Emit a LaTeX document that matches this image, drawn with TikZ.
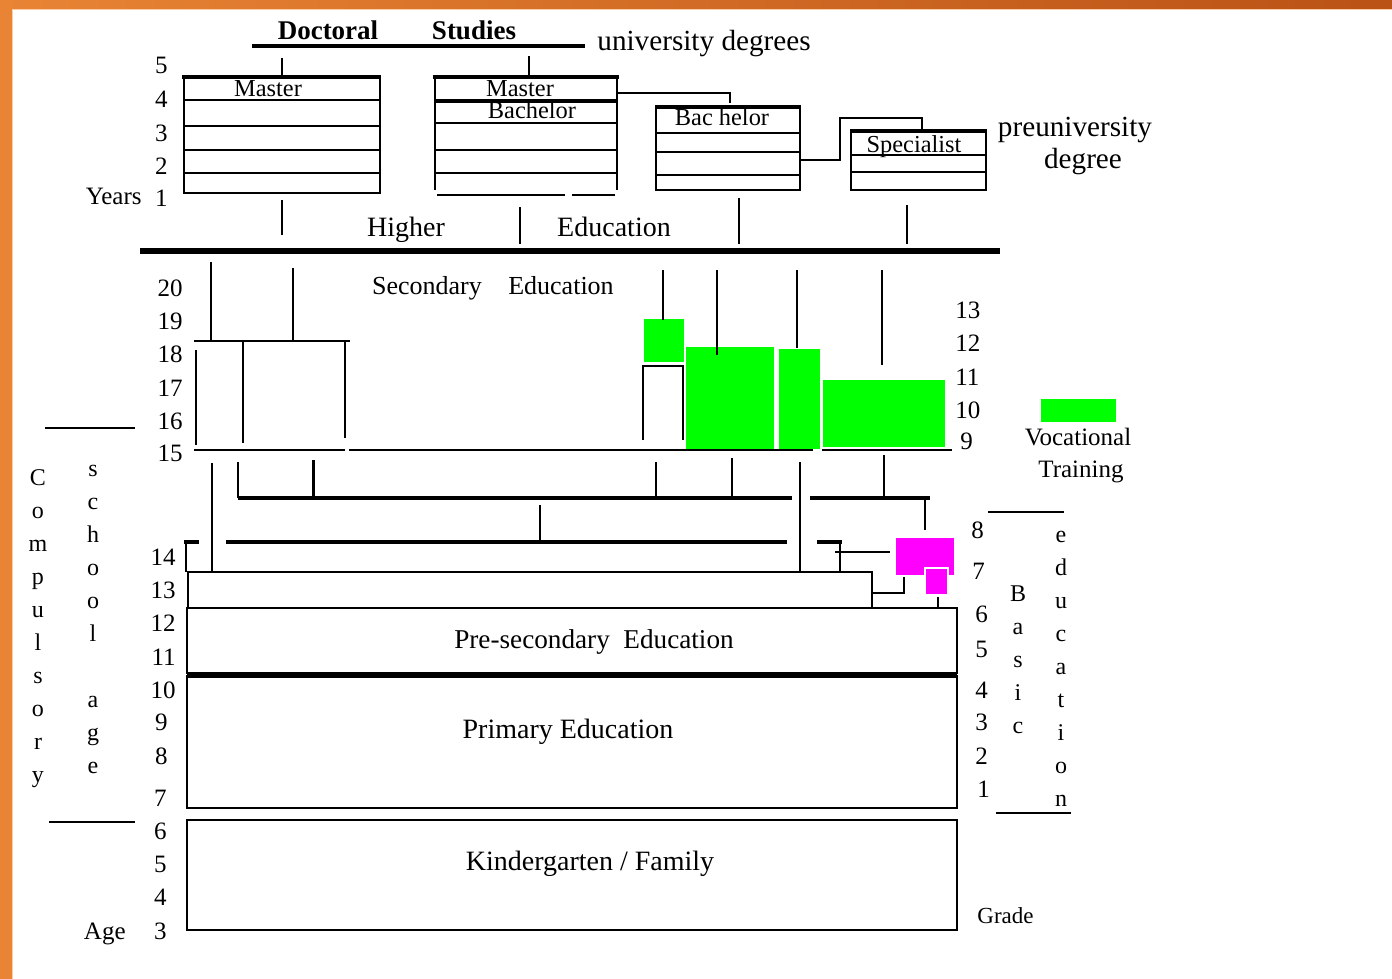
\documentclass[tikz,border=0pt]{standalone}
\usepackage{fontspec}
\setmainfont{Liberation Serif}
\usepackage{xcolor}
\usetikzlibrary{positioning}

\definecolor{vocgreen}{RGB}{0,255,0}
\definecolor{basicpink}{RGB}{255,0,255}
\definecolor{frameorange}{RGB}{232,132,52}
\definecolor{framedark}{RGB}{186,82,22}
\definecolor{framelight}{RGB}{250,205,165}

\tikzset{
  thinline/.style={black,line width=1pt},
  heavyline/.style={black,line width=2.2pt},
  num/.style={inner sep=0pt,font=\fontsize{12.5}{13}\selectfont},
  lbl/.style={inner sep=0pt,font=\fontsize{14}{15}\selectfont},
  boxlbl/.style={inner sep=0pt,font=\fontsize{12.2}{13}\selectfont},
  vletter/.style={inner sep=0pt,anchor=base,font=\fontsize{12}{13}\selectfont},
}

\begin{document}
\begin{tikzpicture}[x=0.5pt,y=-0.5pt]
\useasboundingbox (0,0) rectangle (1392,979);
\fill[white] (0,0) rectangle (1392,979);

% slide frame
\fill[frameorange] (0,0) rectangle (12,979);
\shade[left color=frameorange,right color=framedark] (0,0) rectangle (1392,9);
\draw[framelight,line width=0.8pt] (12.5,979) -- (12.5,9.5) -- (1392,9.5);

% university degrees
\node[inner sep=0pt,anchor=base,font=\bfseries\fontsize{13.5}{14}\selectfont] (doctoral) at (328,40) {Doctoral};
\node[inner sep=0pt,anchor=base,font=\bfseries\fontsize{13.5}{14}\selectfont] (studies) at (474,40) {Studies};
\node[lbl,anchor=base west,font=\fontsize{14.6}{15}\selectfont] (univ) at (597,51) {university degrees};
\draw[heavyline] (252,46) -- (585,46);
\draw[thinline] (282,58) -- (282,77);
\draw[thinline] (529,56) -- (529,77);

\node[num,anchor=base east] (years) at (142,204) {Years};
\foreach \a/\yy in {5/74,4/108,3/141,2/174,1/206}
  \node[num,anchor=base east] (year\a) at (168,\yy) {\a};

% master (left)
\draw[thinline] (184,77) rectangle (380,193);
\draw[heavyline] (182,77) -- (381,77);
\foreach \yy in {100,126,150,173}
  \draw[thinline] (184,\yy) -- (380,\yy);
\node[boxlbl,anchor=base] (master1) at (268,97) {Master};

% master / bachelor
\draw[thinline] (435,77) -- (435,190);
\draw[thinline] (617,77) -- (617,190);
\draw[heavyline] (433,77) -- (619,77);
\draw[black,line width=1.6pt] (435,101) -- (617,101);
\foreach \yy in {123,150,173}
  \draw[thinline] (435,\yy) -- (617,\yy);
\draw[thinline] (437,195) -- (565,195);
\draw[thinline] (572,195) -- (615,195);
\node[boxlbl,anchor=base] (master2) at (520,97) {Master};
\node[boxlbl,anchor=base] (bach2) at (532,119) {Bachelor};
\draw[thinline] (617,93) -- (730,93) -- (730,103);

% bachelor
\draw[thinline] (656,107) rectangle (800,190);
\draw[heavyline] (655,107) -- (801,107);
\foreach \yy in {133,152,175}
  \draw[thinline] (656,\yy) -- (800,\yy);
\node[boxlbl,anchor=base] (bach3) at (722,126) {Bac helor};
\draw[thinline] (800,160) -- (840,160) -- (840,118) -- (922,118) -- (922,131);

% specialist
\draw[thinline] (851,131) rectangle (986,190);
\draw[heavyline] (850,131) -- (987,131);
\foreach \yy in {155,172}
  \draw[thinline] (851,\yy) -- (986,\yy);
\node[boxlbl,anchor=base] (spec) at (914,153) {Specialist};
\node[lbl,anchor=base,font=\fontsize{14.6}{15}\selectfont] (preuni) at (1075,137) {preuniversity};
\node[lbl,anchor=base,font=\fontsize{14.6}{15}\selectfont] (predeg) at (1083,169) {degree};

% higher education
\draw[thinline] (282,200) -- (282,235);
\draw[thinline] (520,207) -- (520,244);
\draw[thinline] (739,198) -- (739,244);
\draw[thinline] (907,205) -- (907,244);
\node[lbl,anchor=base] (higher) at (406,236) {Higher};
\node[lbl,anchor=base] (higheredu) at (614,236) {Education};
\draw[black,line width=2.6pt] (140,251) -- (1000,251);

% secondary education
\node[num,anchor=base,font=\fontsize{13}{14}\selectfont] (second) at (427,294) {Secondary};
\node[num,anchor=base,font=\fontsize{13}{14}\selectfont] (secedu) at (561,294) {Education};
\foreach \a/\yy in {20/296,19/329,18/362,17/396,16/429,15/461}
  \node[num,anchor=base east] (age\a) at (183,\yy) {\a};
\draw[thinline] (211,262) -- (211,341);
\draw[thinline] (293,268) -- (293,341);
\draw[thinline] (194,341) -- (350,341);
\draw[thinline] (196,350) -- (196,445);
\draw[thinline] (243,341) -- (243,443);
\draw[thinline] (345,341) -- (345,438);

% vocational blocks
\fill[vocgreen] (644,319) rectangle (684,362);
\fill[vocgreen] (686,347) rectangle (774,449);
\fill[vocgreen] (779,349) rectangle (820,449);
\fill[vocgreen] (823,380) rectangle (945,447);
\draw[thinline] (643,440) -- (643,366) -- (683,366) -- (683,440);
\draw[thinline] (663,270) -- (663,320);
\draw[thinline] (717,270) -- (717,355);
\draw[thinline] (797,270) -- (797,348);
\draw[thinline] (882,270) -- (882,365);
\draw[thinline] (194,450) -- (345,450);
\draw[thinline] (349,450) -- (813,450);
\draw[thinline] (822,450) -- (952,450);
\foreach \a/\xx/\yy in {13/955/318,12/955/351,11/955/385,10/955/418,9/960/449}
  \node[num,anchor=base west] (grade\a) at (\xx,\yy) {\a};

% legend
\fill[vocgreen] (1041,399) rectangle (1116,422);
\node[num,anchor=base] (voc) at (1078,445) {Vocational};
\node[num,anchor=base] (train) at (1081,477) {Training};

% links down to basic school
\draw[thinline] (212,463) -- (212,572);
\draw[thinline] (238,462) -- (238,498);
\draw[black,line width=1.5pt] (313,460) -- (313,497);
\draw[thinline] (656,462) -- (656,497);
\draw[thinline] (732,458) -- (732,497);
\draw[thinline] (800,462) -- (800,572);
\draw[thinline] (884,455) -- (884,497);
\draw[heavyline] (238,498) -- (792,498);
\draw[heavyline] (810,498) -- (930,498);
\draw[thinline] (925,498) -- (925,530);
\draw[thinline] (540,505) -- (540,542);
\draw[heavyline] (226,542) -- (787,542);
\draw[heavyline] (184,542) -- (199,542);
\draw[thinline] (186,542) -- (186,572);
\draw[heavyline] (817,542) -- (842,542);
\draw[thinline] (840,542) -- (840,572);
\draw[thinline] (835,552) -- (890,552);

% basic vocational
\fill[basicpink] (896,538) rectangle (954,575);
\filldraw[fill=basicpink,draw=white,line width=1.2pt] (925,568) rectangle (948,595);
\draw[thinline] (904,577) -- (904,593) -- (872,593);
\draw[thinline] (938,597) -- (938,608);

% basic school levels
\draw[thinline] (188,572) rectangle (872,608);
\draw[thinline] (187,608) rectangle (957,673);
\draw[thinline] (187,676) rectangle (957,808);
\draw[black,line width=1.6pt] (187,676) -- (957,676);
\draw[thinline] (187,820) rectangle (957,930);
\node[lbl,anchor=base,font=\fontsize{13.6}{14}\selectfont] (presec) at (594,648) {Pre-secondary~~Education};
\node[lbl,anchor=base] (primary) at (568,738) {Primary Education};
\node[lbl,anchor=base] (kinder) at (590,870) {Kindergarten / Family};

\foreach \a/\xx/\yy in {14/176/565,13/176/598,12/176/631,11/176/665,10/176/698,9/168/730,8/168/764,7/167/806,6/167/839,5/167/872,4/167/905,3/167/939}
  \node[num,anchor=base east] (ageB\a) at (\xx,\yy) {\a};
\node[num,anchor=base east] (age) at (126,939) {Age};
\foreach \a/\xx/\yy in {8/971/538,7/972/579,6/975/622,5/975/657,4/975/698,3/975/730,2/975/764,1/977/797}
  \node[num,anchor=base west] (gradeB\a) at (\xx,\yy) {\a};
\node[num,anchor=base west,font=\fontsize{11.5}{12}\selectfont] (grade) at (977,923) {Grade};

% compulsory school age
\draw[thinline] (45,428) -- (135,428);
\draw[thinline] (49,822) -- (135,822);
\foreach \c [count=\k from 0] in {C,o,m,p,u,l,s,o,r,y}
  \node[vletter] (comp\k) at (38,485+33*\k) {\c};
\foreach \c/\k in {s/0,c/1,h/2,o/3,o/4,l/5,a/7,g/8,e/9}
  \node[vletter] (school\k) at (93,476+33*\k) {\c};

% basic education
\draw[thinline] (988,512) -- (1064,512);
\draw[thinline] (996,813) -- (1071,813);
\foreach \c [count=\k from 0] in {B,a,s,i,c}
  \node[vletter] (basic\k) at (1018,601+33*\k) {\c};
\foreach \c [count=\k from 0] in {e,d,u,c,a,t,i,o,n}
  \node[vletter] (edu\k) at (1061,542+33*\k) {\c};
\end{tikzpicture}
\end{document}
